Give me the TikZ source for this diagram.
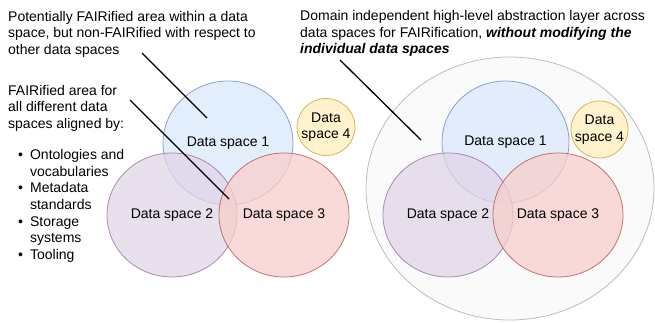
\documentclass[tikz,border=0pt]{standalone}
\usepackage{fontspec}
\setmainfont{Liberation Sans}
\usetikzlibrary{shapes.geometric}
\definecolor{bluefill}{HTML}{DAE8FC}
\definecolor{bluedraw}{HTML}{6C8EBF}
\definecolor{purpfill}{HTML}{E1D5E7}
\definecolor{purpdraw}{HTML}{9673A6}
\definecolor{redfill}{HTML}{F8CECC}
\definecolor{reddraw}{HTML}{B85450}
\definecolor{yelfill}{HTML}{FFF2CC}
\definecolor{yeldraw}{HTML}{D6B656}
\definecolor{layerfill}{HTML}{FAFAFA}
\definecolor{layerdraw}{HTML}{BDBDBD}
\tikzset{
  txt/.style={font=\fontsize{14}{16.7}\selectfont},
  space/.style={ellipse, inner sep=0pt, txt, line width=0.8pt, align=center,
    minimum width=130pt, minimum height=124pt},
  sp1/.style={space, fill=bluefill, draw=bluedraw, fill opacity=0.75, draw opacity=0.8, text opacity=1},
  sp2/.style={space, fill=purpfill, draw=purpdraw, fill opacity=0.75, draw opacity=0.8, text opacity=1},
  sp3/.style={space, fill=redfill, draw=reddraw, fill opacity=0.75, draw opacity=0.8, text opacity=1},
  sp4/.style={space, inner sep=-10pt, fill=yelfill, draw=yeldraw, minimum width=58pt, minimum height=57pt},
  layer/.style={ellipse, inner sep=0pt, fill=layerfill, draw=layerdraw, line width=0.8pt,
    minimum width=288pt, minimum height=263pt},
  pointer/.style={draw=black, line width=1.3pt},
  note/.style={txt, anchor=north west, inner sep=0pt, align=left},
}
\begin{document}
\begin{tikzpicture}[x=1pt,y=-1pt]
\useasboundingbox (0,0) rectangle (655,322);
% texts
\node[note] (t1) at (8,10.7) {Potentially FAIRified area within a data\\space, but non-FAIRified with respect to\\other data spaces};
\node[note] (t2) at (8,84.7) {FAIRified area for\\all different data\\spaces aligned by:};
\node[txt, anchor=north west, inner sep=0pt] (t3) at (18,147.5) {\def\arraystretch{1}\begin{tabular}{@{}l@{\hspace{7pt}}l@{}}
\textbullet & Ontologies and\\
 & vocabularies\\
\textbullet & Metadata\\
 & standards\\
\textbullet & Storage\\
 & systems\\
\textbullet & Tooling
\end{tabular}};
\node[note] (t4) at (300,10) {Domain independent high-level abstraction layer across\\data spaces for FAIRification, \textbf{\textit{without modifying the}}\\\textbf{\textit{individual data spaces}}};
% left group
\node[sp1] (a1) at (228,143) {Data space 1};
\node[sp2] (a2) at (172,215) {Data space 2};
\node[sp3] (a3) at (284,215) {Data space 3};
\node[sp4] (a4) at (326,127) {Data\\space 4};
% right group
\node[layer] (L) at (510,188.5) {};
\node[sp1, minimum width=127pt, minimum height=122pt] (b1) at (505.5,142) {Data space 1};
\node[sp2] (b2) at (448,215) {Data space 2};
\node[sp3] (b3) at (558,215) {Data space 3};
\node[sp4, minimum width=57pt] (b4) at (599.5,129.5) {Data\\space 4};
% pointers
\coordinate (p1s) at (142,53);
\coordinate (p1e) at (207,118);
\coordinate (p2s) at (130,100);
\coordinate (p2e) at (229,199);
\coordinate (p3s) at (340,60);
\coordinate (p3e) at (421,140);
\draw[pointer] (p1s) -- (p1e);
\draw[pointer] (p2s) -- (p2e);
\draw[pointer] (p3s) -- (p3e);
\end{tikzpicture}
\end{document}
